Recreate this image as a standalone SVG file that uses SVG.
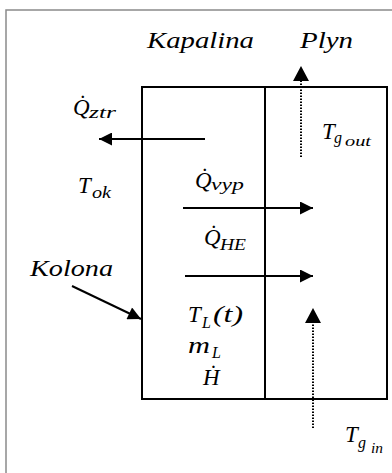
<svg xmlns="http://www.w3.org/2000/svg" width="392" height="473" viewBox="0 0 392 473">
<defs>
<style>
text{font-family:"Liberation Serif","Times New Roman",serif;font-style:italic;fill:#000}
.lbl{font-size:23px}
.sm{font-size:23px}
.sub{font-size:16px}
.sub2{font-size:14px}
.box{fill:none;stroke:#000;stroke-width:2}
.arr{stroke:#000;stroke-width:2;fill:none}
.dot{stroke:#000;stroke-width:2;fill:none;stroke-dasharray:1.5 1.5}
</style>
<marker id="ah" viewBox="0 0 10 10" refX="10" refY="5" markerUnits="userSpaceOnUse" markerWidth="15" markerHeight="13" orient="auto">
<path d="M0,0 L10,5 L0,10 Z" fill="#000"/>
</marker>
</defs>
<rect x="6" y="10" width="400" height="480" fill="none" stroke="#8a8a8a" stroke-width="1.5"/>
<g id="kolona">
<rect class="box" x="142" y="87" width="245" height="312"/>
</g>
<g id="kapalina">
<rect class="box" x="142" y="87" width="123" height="312"/>
</g>
<g id="plyn">
<rect class="box" x="265" y="87" width="122" height="312"/>
</g>
<g id="labels">
<text class="lbl" x="147" y="48" textLength="107" lengthAdjust="spacingAndGlyphs">Kapalina</text>
<text class="lbl" x="300" y="48" textLength="53" lengthAdjust="spacingAndGlyphs">Plyn</text>
<text class="sm" x="73" y="115">Q̇<tspan class="sub" x="89" y="118" textLength="27" lengthAdjust="spacingAndGlyphs">ztr</tspan></text>
<text class="sm" x="78" y="193">T<tspan class="sub" x="92" y="198" textLength="19" lengthAdjust="spacingAndGlyphs">ok</tspan></text>
<text class="sm" x="195" y="188">Q̇<tspan class="sub" x="211" y="190" textLength="33" lengthAdjust="spacingAndGlyphs">vyp</tspan></text>
<text class="sm" x="204" y="245">Q̇<tspan class="sub" x="220" y="250" textLength="26" lengthAdjust="spacingAndGlyphs">HE</tspan></text>
<text class="lbl" x="30" y="276" textLength="83" lengthAdjust="spacingAndGlyphs">Kolona</text>
<text class="sm" x="188" y="322">T<tspan class="sub" x="202" y="328">L</tspan><tspan x="213" y="322" textLength="30" lengthAdjust="spacingAndGlyphs">(t)</tspan></text>
<text class="sm" x="188" y="353"><tspan textLength="22" lengthAdjust="spacingAndGlyphs">m</tspan><tspan class="sub" x="212" y="358">L</tspan></text>
<text class="sm" x="203" y="385">Ḣ</text>
<text class="lbl" x="322" y="139">T<tspan class="sub" x="334" y="143">g</tspan><tspan class="sub2" x="345" y="146" textLength="26" lengthAdjust="spacingAndGlyphs">out</tspan></text>
<text class="lbl" x="345" y="442">T<tspan class="sub" x="358" y="448">g</tspan><tspan class="sub2" x="371" y="453" textLength="12" lengthAdjust="spacingAndGlyphs">in</tspan></text>
</g>
<g id="connectors">
<line class="arr" x1="205" y1="139" x2="99" y2="139" marker-end="url(#ah)"/>
<line class="arr" x1="183" y1="208" x2="313" y2="208" marker-end="url(#ah)"/>
<line class="arr" x1="185" y1="276" x2="313" y2="276" marker-end="url(#ah)"/>
<line class="arr" x1="72" y1="286" x2="141" y2="319" marker-end="url(#ah)"/>
<line class="dot" x1="301" y1="157" x2="301" y2="80"/>
<path d="M293,81 L301,66 L309,81 Z" fill="#000"/>
<line class="dot" x1="313" y1="428" x2="313" y2="322"/>
<path d="M305,323 L313,308 L321,323 Z" fill="#000"/>
</g>
</svg>
